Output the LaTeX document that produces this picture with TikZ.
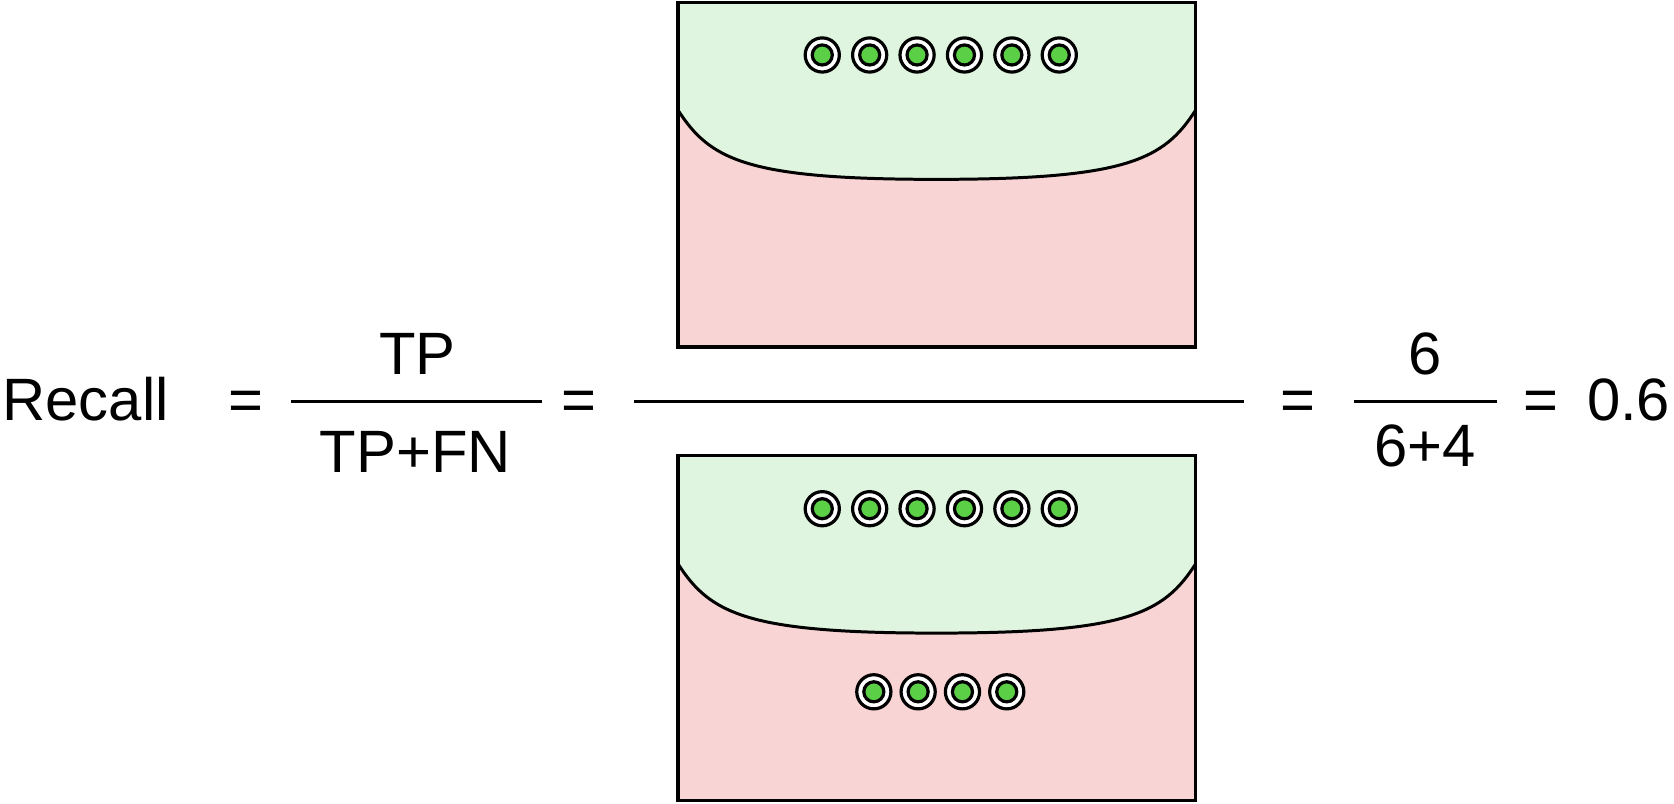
\documentclass[tikz,border=0pt]{standalone}
\usepackage{fontspec}
\setmainfont{Liberation Sans}
\definecolor{boxgreen}{RGB}{223,245,223}
\definecolor{boxpink}{RGB}{248,212,212}
\definecolor{dotgreen}{RGB}{91,208,70}
\tikzset{
  frame/.style={draw=black,line width=1.5pt},
  split/.style={draw=black,line width=1.4pt},
  bar/.style={draw=black,line width=1.1pt},
  lbl/.style={font=\fontsize{28}{33}\selectfont,inner sep=0pt,anchor=base},
  tpdot/.pic={
    \draw[line width=1.5pt,fill=white] (0,0) circle[radius=16];
    \draw[line width=1.5pt,fill=dotgreen] (0,0) circle[radius=9.4];
  }
}
\begin{document}
\begin{tikzpicture}[x=0.5pt,y=-0.5pt]
\useasboundingbox (0,0) rectangle (1568,753);
% ---------- boxes ----------
\foreach \oy in {0,425}{
  \begin{scope}[shift={(0,\oy)}]
    \fill[boxpink] (635,2) rectangle (1120,325);
    \fill[boxgreen] (635,2) -- (635,103) .. controls (665,150) and (700,168) .. (877,168)
       .. controls (1055,168) and (1090,150) .. (1120,103) -- (1120,2) -- cycle;
    \draw[split] (635,103) .. controls (665,150) and (700,168) .. (877,168)
       .. controls (1055,168) and (1090,150) .. (1120,103);
    \draw[frame] (635,2) rectangle (1120,325);
    \foreach \i in {0,...,5}{
      \pic at ({770.2+44.4*\i},51.5) {tpdot};
    }
  \end{scope}
}
\foreach \i in {0,...,3}{
  \pic at ({818.5+41.5*\i},648) {tpdot};
}
% ---------- formula ----------
\node[lbl,anchor=base west] (recall) at (2,394) {Recall};
\node[lbl] (eq1) at (230,394) {=};
\node[lbl] (tp) at (391,351) {TP};
\node[lbl] (tpfn) at (389,443) {TP+FN};
\coordinate (b1l) at (273,376);
\coordinate (b1r) at (508,376);
\draw[bar] (b1l) -- (b1r);
\node[lbl] (eq2) at (542,394) {=};
\coordinate (b2l) at (594,376);
\coordinate (b2r) at (1165,376);
\draw[bar] (b2l) -- (b2r);
\node[lbl] (eq3) at (1216,394) {=};
\node[lbl] (six) at (1335,351) {6};
\node[lbl] (sixfour) at (1335,437) {6+4};
\coordinate (b3l) at (1268,376);
\coordinate (b3r) at (1402,376);
\draw[bar] (b3l) -- (b3r);
\node[lbl] (eq4) at (1443,394) {=};
\node[lbl] (res) at (1525.5,394) {0.6};
\end{tikzpicture}
\end{document}
